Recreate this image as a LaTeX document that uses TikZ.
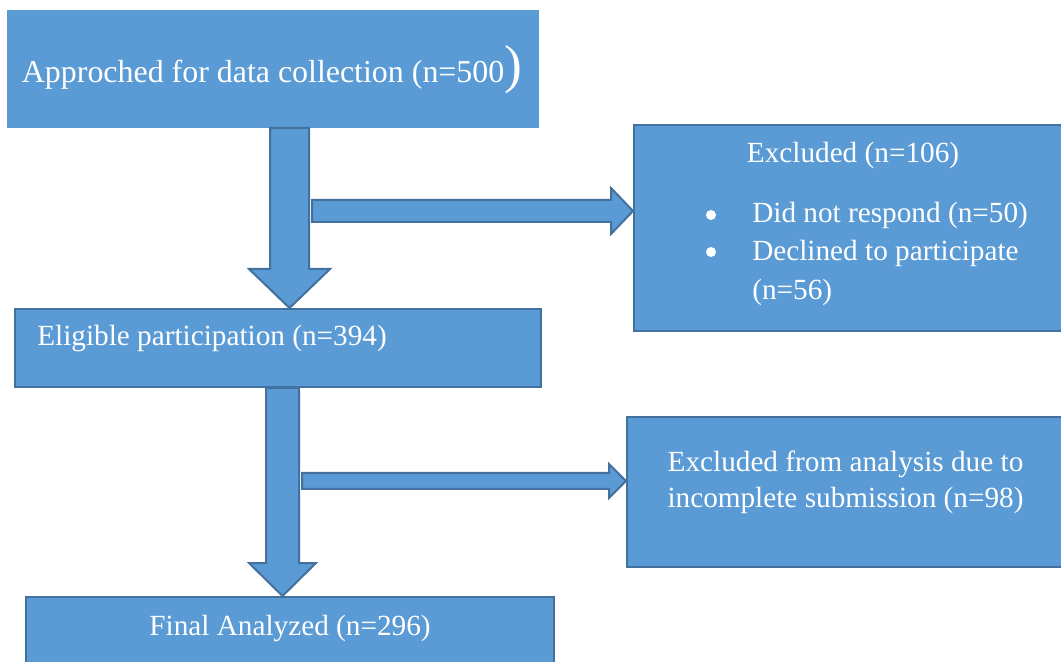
\documentclass[tikz,border=0pt]{standalone}
\usepackage{fontspec}
\setmainfont{Liberation Serif}
\usepackage{tikz}
\usetikzlibrary{positioning, calc}
\definecolor{FlowBlue}{RGB}{91,155,213}
\definecolor{FlowEdge}{RGB}{65,113,156}

% block arrows: start, tip, half shaft, half head, head length
\newcommand{\blockdown}[5]{%
  \draw[blockarr] ($(#1)+(-#3,0)$) -- ($(#2)+(-#3,#5)$) -- ($(#2)+(-#4,#5)$)
    -- (#2) -- ($(#2)+(#4,#5)$) -- ($(#2)+(#3,#5)$) -- ($(#1)+(#3,0)$) -- cycle;}
\newcommand{\blockright}[5]{%
  \draw[blockarr] ($(#1)+(0,#3)$) -- ($(#2)+(-#5,#3)$) -- ($(#2)+(-#5,#4)$)
    -- (#2) -- ($(#2)+(-#5,-#4)$) -- ($(#2)+(-#5,-#3)$) -- ($(#1)+(0,-#3)$) -- cycle;}

\begin{document}
\begin{tikzpicture}[
          flowbox/.style={rectangle, fill=FlowBlue, draw=FlowEdge, line width=0.05cm,
                          inner sep=0pt},
          blockarr/.style={fill=FlowBlue, draw=FlowEdge, line width=0.05cm, line join=miter},
          txt/.style={text=white, inner sep=0pt, font=\fontsize{20.8}{25}\selectfont},
          bullet/.style={circle, fill=white, minimum size=0.25cm, inner sep=0pt}
        ]
        \useasboundingbox (0,0) rectangle (26.525,-16.55);

        % boxes
        \node[flowbox, draw=FlowBlue, minimum width=13.25cm, minimum height=2.9cm]
              (appr) at (6.825,-1.725) {};
        \node[flowbox, minimum width=10.75cm, minimum height=5.15cm]
              (exc1) at (21.225,-5.7) {};
        \node[flowbox, minimum width=13.15cm, minimum height=1.95cm]
              (elig) at (6.95,-8.7) {};
        \node[flowbox, minimum width=10.925cm, minimum height=3.75cm]
              (exc2) at (21.1375,-12.3) {};
        \node[flowbox, minimum width=13.2cm, minimum height=1.875cm]
              (final) at (7.25,-15.8625) {};

        % texts
        \node[txt, anchor=base, font=\fontsize{22.7}{27}\selectfont] (apprtxt) at (6.8,-2.075)
              {Approched for data collection (n=500{\fontsize{38}{38}\selectfont)}};
        \node[txt, anchor=base] (exc1txt) at (21.325,-4.075) {Excluded (n=106)};
        \node[bullet] (bul1) at (17.775,-5.375) {};
        \node[bullet] (bul2) at (17.775,-6.3) {};
        \node[txt, anchor=base west] (resp) at (18.8,-5.575) {Did not respond (n=50)};
        \node[txt, anchor=base west] (decl) at (18.8,-6.525) {Declined to participate};
        \node[txt, anchor=base west] (decln) at (18.8,-7.5) {(n=56)};
        \node[txt, anchor=base west] (eligtxt) at (0.925,-8.65) {Eligible participation (n=394)};
        \node[txt, anchor=base] (exc2a) at (21.1375,-11.8) {Excluded from analysis due to};
        \node[txt, anchor=base] (exc2b) at (21.1375,-12.7) {incomplete submission (n=98)};
        \node[txt, anchor=base] (finaltxt) at (7.25,-15.875) {Final Analyzed (n=296)};

        % arrows
        \coordinate (d1s) at (7.2375,0 |- appr.south);
        \coordinate (d1t) at (7.2375,0 |- elig.north);
        \coordinate (r1s) at (7.8,-5.275);
        \coordinate (r1t) at (exc1.west |- r1s);
        \coordinate (d2s) at (7.0625,0 |- elig.south);
        \coordinate (d2t) at (7.0625,0 |- final.north);
        \coordinate (r2s) at (7.55,-12.025);
        \coordinate (r2t) at (exc2.west |- r2s);

        \blockdown{d1s}{d1t}{0.4875}{1.0125}{0.975}
        \blockright{r1s}{r1t}{0.275}{0.575}{0.55}
        \blockdown{d2s}{d2t}{0.4125}{0.8375}{0.825}
        \blockright{r2s}{r2t}{0.2}{0.425}{0.425}
      \end{tikzpicture}
\end{document}
